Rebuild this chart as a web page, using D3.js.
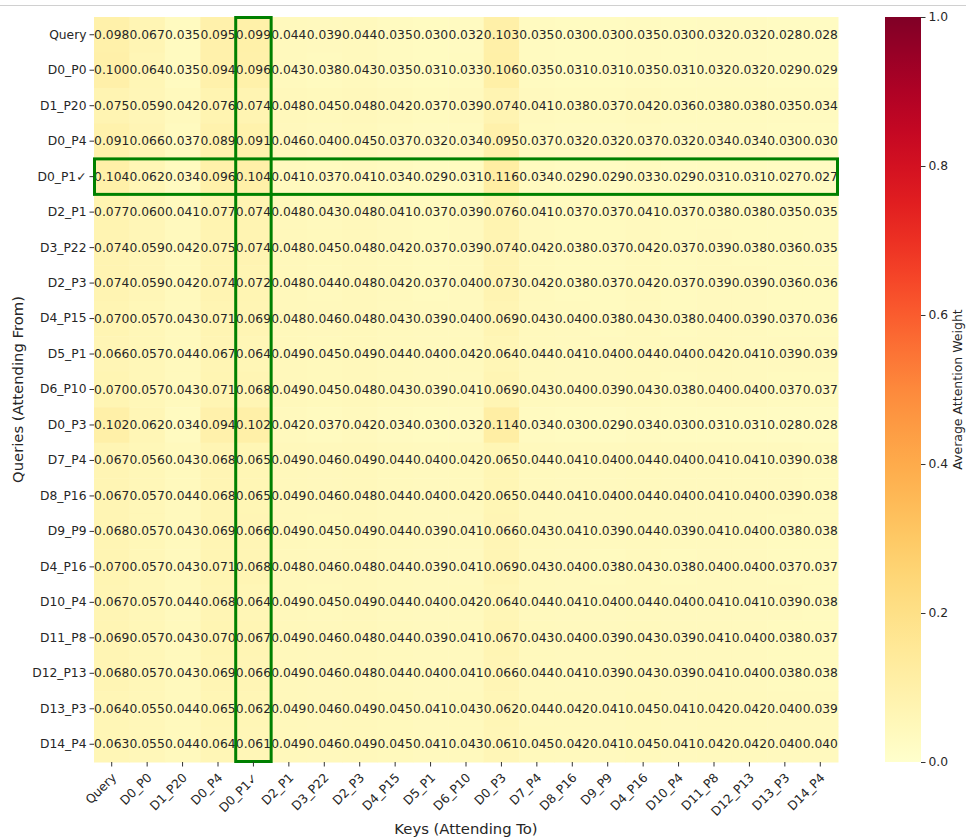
<!DOCTYPE html>
<html>
<head>
<meta charset="utf-8">
<script src="https://cdn.jsdelivr.net/npm/d3@7"></script>
<style>
  body { margin: 0; background: #fff; }
  svg { font-family: "DejaVu Sans", sans-serif; }
</style>
</head>
<body>
<svg id="chart" width="966" height="840"></svg>
<script>
// token labels (rows = queries, columns = keys)
const labels = ["Query", "D0_P0", "D1_P20", "D0_P4", "D0_P1\u2713", "D2_P1", "D3_P22", "D2_P3", "D4_P15", "D5_P1",
    "D6_P10", "D0_P3", "D7_P4", "D8_P16", "D9_P9", "D4_P16", "D10_P4", "D11_P8", "D12_P13", "D13_P3", "D14_P4"];

const rowQuery  = [0.098,0.067,0.035,0.095,0.099,0.044,0.039,0.044,0.035,0.030,0.032,0.103,0.035,0.030,0.030,0.035,0.030,0.032,0.032,0.028,0.028];
const rowD0P0   = [0.100,0.064,0.035,0.094,0.096,0.043,0.038,0.043,0.035,0.031,0.033,0.106,0.035,0.031,0.031,0.035,0.031,0.032,0.032,0.029,0.029];
const rowD1P20  = [0.075,0.059,0.042,0.076,0.074,0.048,0.045,0.048,0.042,0.037,0.039,0.074,0.041,0.038,0.037,0.042,0.036,0.038,0.038,0.035,0.034];
const rowD0P4   = [0.091,0.066,0.037,0.089,0.091,0.046,0.040,0.045,0.037,0.032,0.034,0.095,0.037,0.032,0.032,0.037,0.032,0.034,0.034,0.030,0.030];
const rowD0P1   = [0.104,0.062,0.034,0.096,0.104,0.041,0.037,0.041,0.034,0.029,0.031,0.116,0.034,0.029,0.029,0.033,0.029,0.031,0.031,0.027,0.027];
const rowD2P1   = [0.077,0.060,0.041,0.077,0.074,0.048,0.043,0.048,0.041,0.037,0.039,0.076,0.041,0.037,0.037,0.041,0.037,0.038,0.038,0.035,0.035];
const rowD3P22  = [0.074,0.059,0.042,0.075,0.074,0.048,0.045,0.048,0.042,0.037,0.039,0.074,0.042,0.038,0.037,0.042,0.037,0.039,0.038,0.036,0.035];
const rowD2P3   = [0.074,0.059,0.042,0.074,0.072,0.048,0.044,0.048,0.042,0.037,0.040,0.073,0.042,0.038,0.037,0.042,0.037,0.039,0.039,0.036,0.036];
const rowD4P15  = [0.070,0.057,0.043,0.071,0.069,0.048,0.046,0.048,0.043,0.039,0.040,0.069,0.043,0.040,0.038,0.043,0.038,0.040,0.039,0.037,0.036];
const rowD5P1   = [0.066,0.057,0.044,0.067,0.064,0.049,0.045,0.049,0.044,0.040,0.042,0.064,0.044,0.041,0.040,0.044,0.040,0.042,0.041,0.039,0.039];
const rowD6P10  = [0.070,0.057,0.043,0.071,0.068,0.049,0.045,0.048,0.043,0.039,0.041,0.069,0.043,0.040,0.039,0.043,0.038,0.040,0.040,0.037,0.037];
const rowD0P3   = [0.102,0.062,0.034,0.094,0.102,0.042,0.037,0.042,0.034,0.030,0.032,0.114,0.034,0.030,0.029,0.034,0.030,0.031,0.031,0.028,0.028];
const rowD7P4   = [0.067,0.056,0.043,0.068,0.065,0.049,0.046,0.049,0.044,0.040,0.042,0.065,0.044,0.041,0.040,0.044,0.040,0.041,0.041,0.039,0.038];
const rowD8P16  = [0.067,0.057,0.044,0.068,0.065,0.049,0.046,0.048,0.044,0.040,0.042,0.065,0.044,0.041,0.040,0.044,0.040,0.041,0.040,0.039,0.038];
const rowD9P9   = [0.068,0.057,0.043,0.069,0.066,0.049,0.045,0.049,0.044,0.039,0.041,0.066,0.043,0.041,0.039,0.044,0.039,0.041,0.040,0.038,0.038];
const rowD4P16  = [0.070,0.057,0.043,0.071,0.068,0.048,0.046,0.048,0.044,0.039,0.041,0.069,0.043,0.040,0.038,0.043,0.038,0.040,0.040,0.037,0.037];
const rowD10P4  = [0.067,0.057,0.044,0.068,0.064,0.049,0.045,0.049,0.044,0.040,0.042,0.064,0.044,0.041,0.040,0.044,0.040,0.041,0.041,0.039,0.038];
const rowD11P8  = [0.069,0.057,0.043,0.070,0.067,0.049,0.046,0.048,0.044,0.039,0.041,0.067,0.043,0.040,0.039,0.043,0.039,0.041,0.040,0.038,0.037];
const rowD12P13 = [0.068,0.057,0.043,0.069,0.066,0.049,0.046,0.048,0.044,0.040,0.041,0.066,0.044,0.041,0.039,0.043,0.039,0.041,0.040,0.038,0.038];
const rowD13P3  = [0.064,0.055,0.044,0.065,0.062,0.049,0.046,0.049,0.045,0.041,0.043,0.062,0.044,0.042,0.041,0.045,0.041,0.042,0.042,0.040,0.039];
const rowD14P4  = [0.063,0.055,0.044,0.064,0.061,0.049,0.046,0.049,0.045,0.041,0.043,0.061,0.045,0.042,0.041,0.045,0.041,0.042,0.042,0.040,0.040];

const matrix = [rowQuery, rowD0P0, rowD1P20, rowD0P4, rowD0P1, rowD2P1, rowD3P22, rowD2P3, rowD4P15, rowD5P1,
    rowD6P10, rowD0P3, rowD7P4, rowD8P16, rowD9P9, rowD4P16, rowD10P4, rowD11P8, rowD12P13, rowD13P3, rowD14P4];

const highlighted = "D0_P1\u2713";
const colorTicks = [0.0, 0.2, 0.4, 0.6, 0.8, 1.0];

const svg = d3.select("#chart");
const plot = { left: 94, right: 838, top: 17, bottom: 762 };
const bar = { left: 885, right: 921 };
const textColor = "#262626";

// thin rule at the very top
svg.append("line")
    .attr("x1", 0).attr("x2", 966).attr("y1", 5.5).attr("y2", 5.5)
    .attr("stroke", "#d0d0d0").attr("stroke-width", 1);

const x = d3.scaleBand().domain(labels).range([plot.left, plot.right]);
const y = d3.scaleBand().domain(labels).range([plot.top, plot.bottom]);
const color = d3.scaleSequential(d3.interpolateYlOrRd).domain([0, 1]);

const cells = [];
matrix.forEach((row, i) => row.forEach((v, j) => cells.push({ r: labels[i], c: labels[j], v })));

const g = svg.append("g");

g.selectAll("rect.cell")
    .data(cells)
    .enter()
    .append("rect")
    .attr("class", "cell")
    .attr("x", d => x(d.c))
    .attr("y", d => y(d.r))
    .attr("width", x.bandwidth() + 0.5)
    .attr("height", y.bandwidth() + 0.5)
    .attr("fill", d => color(d.v));

g.selectAll("text.val")
    .data(cells)
    .enter()
    .append("text")
    .attr("class", "val")
    .attr("x", d => x(d.c) + x.bandwidth() / 2)
    .attr("y", d => y(d.r) + y.bandwidth() / 2)
    .attr("text-anchor", "middle")
    .attr("dominant-baseline", "central")
    .attr("font-size", 12.3)
    .attr("fill", textColor)
    .text(d => d.v.toFixed(3));

// highlight boxes for the target document
g.append("rect")
    .attr("x", x(highlighted))
    .attr("y", plot.top + 0.5)
    .attr("width", x.bandwidth())
    .attr("height", plot.bottom - plot.top - 1)
    .attr("fill", "none")
    .attr("stroke", "green")
    .attr("stroke-width", 3);

g.append("rect")
    .attr("x", plot.left + 0.5)
    .attr("y", y(highlighted))
    .attr("width", plot.right - plot.left - 1)
    .attr("height", y.bandwidth())
    .attr("fill", "none")
    .attr("stroke", "green")
    .attr("stroke-width", 3);

// axes
const yAxis = svg.append("g")
    .attr("transform", `translate(${plot.left},0)`)
    .call(d3.axisLeft(y).tickSize(4.5).tickPadding(3));
yAxis.select(".domain").remove();
yAxis.selectAll("text").attr("font-size", 12.3).attr("fill", textColor).attr("font-family", "DejaVu Sans");
yAxis.selectAll("line").attr("stroke", "#333");

const xAxis = svg.append("g")
    .attr("transform", `translate(0,${plot.bottom})`)
    .call(d3.axisBottom(x).tickSize(4.5).tickPadding(3));
xAxis.select(".domain").remove();
xAxis.selectAll("line").attr("stroke", "#333");
xAxis.selectAll("text")
    .attr("font-size", 12.3)
    .attr("fill", textColor)
    .attr("font-family", "DejaVu Sans")
    .attr("text-anchor", "end")
    .attr("dy", "0.35em")
    .attr("transform", "translate(-3,8) rotate(-45)");

svg.append("text")
    .attr("x", (plot.left + plot.right) / 2)
    .attr("y", 834)
    .attr("text-anchor", "middle")
    .attr("font-size", 14.8)
    .attr("fill", textColor)
    .text("Keys (Attending To)");

svg.append("text")
    .attr("transform", `translate(23,${(plot.top + plot.bottom) / 2}) rotate(-90)`)
    .attr("text-anchor", "middle")
    .attr("font-size", 14.8)
    .attr("fill", textColor)
    .text("Queries (Attending From)");

// colorbar
const defs = svg.append("defs");
const grad = defs.append("linearGradient")
    .attr("id", "cbar")
    .attr("x1", 0).attr("y1", 1).attr("x2", 0).attr("y2", 0);
d3.range(0, 1.0001, 0.05).forEach(t => {
    grad.append("stop").attr("offset", t).attr("stop-color", color(t));
});

svg.append("rect")
    .attr("x", bar.left)
    .attr("y", plot.top)
    .attr("width", bar.right - bar.left)
    .attr("height", plot.bottom - plot.top)
    .attr("fill", "url(#cbar)");

const cScale = d3.scaleLinear().domain([0, 1]).range([plot.bottom, plot.top]);
const cAxis = svg.append("g")
    .attr("transform", `translate(${bar.right},0)`)
    .call(d3.axisRight(cScale).tickValues(colorTicks).tickFormat(d3.format(".1f")).tickSize(4.5).tickPadding(3));
cAxis.select(".domain").remove();
cAxis.selectAll("line").attr("stroke", "#333");
cAxis.selectAll("text").attr("font-size", 12.3).attr("fill", textColor).attr("font-family", "DejaVu Sans");

svg.append("text")
    .attr("transform", `translate(962,${(plot.top + plot.bottom) / 2}) rotate(-90)`)
    .attr("text-anchor", "middle")
    .attr("font-size", 12.5)
    .attr("fill", textColor)
    .text("Average Attention Weight");
</script>
</body>
</html>
